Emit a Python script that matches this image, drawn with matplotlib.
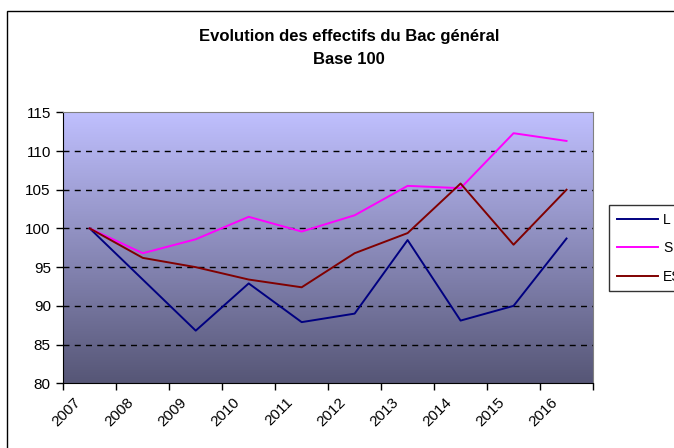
import matplotlib.pyplot as plt
import numpy as np
from matplotlib.patches import Rectangle
from matplotlib.transforms import ScaledTranslation

plt.rcParams['font.family'] = ['Liberation Sans', 'DejaVu Sans']

years = ['2007', '2008', '2009', '2010', '2011', '2012', '2013', '2014', '2015', '2016']
l_vals = [100, 93.4, 86.8, 92.9, 87.9, 89.0, 98.5, 88.1, 90.0, 98.7]
s_vals = [100, 96.8, 98.6, 101.5, 99.6, 101.7, 105.5, 105.2, 112.3, 111.3]
es_vals = [100, 96.2, 95.0, 93.4, 92.4, 96.8, 99.4, 105.8, 97.9, 105.0]

W, H = 674, 448
fig = plt.figure(figsize=(W / 100, H / 100), dpi=100)

# outer chart border (runs off the right and bottom edges)
fig.patches.append(Rectangle((7 / W, -0.1), 1.2, 1 - 11 / H + 0.1, transform=fig.transFigure,
                             fill=False, edgecolor='black', linewidth=1.0))

ax = fig.add_axes([63.3 / W, 1 - 383.3 / H, (593 - 63.3) / W, (383.3 - 112.3) / H])

# gradient plot area
top = np.array([192, 192, 255]) / 255
bot = np.array([86, 86, 118]) / 255
t = np.linspace(0, 1, 256)[:, None]
grad = (top[None, :] * (1 - t) + bot[None, :] * t)[:, None, :]
ax.imshow(grad, extent=[0, 1, 0, 1], transform=ax.transAxes, aspect='auto', zorder=0)

x = np.arange(len(years)) + 0.5
ax.plot(x, l_vals, color='#000080', linewidth=1.4, label='L', zorder=3)
ax.plot(x, s_vals, color='#FF00FF', linewidth=1.4, label='S', zorder=3)
ax.plot(x, es_vals, color='#800000', linewidth=1.4, label='ES', zorder=3)

ax.set_xlim(0, len(years))
ax.set_ylim(80, 115)
ax.set_yticks(np.arange(80, 116, 5))
for yv in range(85, 115, 5):
    ax.axhline(yv, color='black', linewidth=1.0, dashes=(4.3, 3.8), zorder=2)

ax.set_xticks(np.arange(len(years) + 1))
ax.set_xticklabels([])
ax.set_xticks(x, minor=True)
ax.set_xticklabels(years, minor=True, rotation=45, ha='right', va='center',
                   rotation_mode='anchor', fontsize=11)
ax.tick_params(axis='x', which='minor', length=0, pad=12)
ax.tick_params(axis='x', which='major', length=5, width=1, direction='out')
ax.tick_params(axis='y', length=5, width=1, direction='out', labelsize=11, pad=4)
offset = ScaledTranslation(-11 / 100, 0, fig.dpi_scale_trans)
for lab in ax.get_xticklabels(minor=True):
    lab.set_transform(lab.get_transform() + offset)

for side in ['top', 'right']:
    ax.spines[side].set_color('#808080')
for side in ['left', 'bottom']:
    ax.spines[side].set_color('black')

fig.text(349 / W, 1 - 36 / H, 'Evolution des effectifs du Bac général', ha='center', va='center',
         fontsize=12, fontweight='bold')
fig.text(349 / W, 1 - 59 / H, 'Base 100', ha='center', va='center', fontsize=12, fontweight='bold')

leg = fig.legend(loc='upper left', bbox_to_anchor=(609 / W, 1 - 205 / H), fontsize=10,
                 frameon=True, fancybox=False, shadow=False, borderaxespad=0,
                 handlelength=2.95, handletextpad=0.4, labelspacing=1.05, borderpad=0.55)
leg.get_frame().set_edgecolor('black')
leg.get_frame().set_linewidth(1.0)

fig.savefig('out.png', dpi=100)
